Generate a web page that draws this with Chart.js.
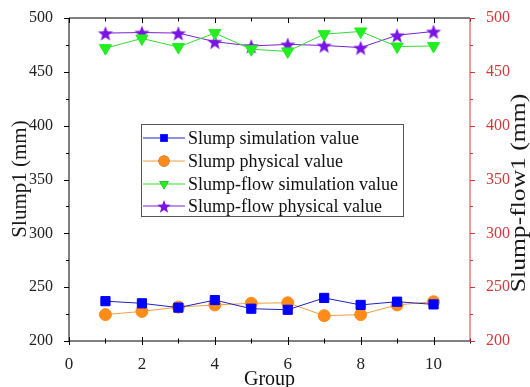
<!DOCTYPE html>
<html>
<head>
<meta charset="utf-8">
<script src="https://cdn.jsdelivr.net/npm/chart.js@4"></script>
<style>
  html, body { margin: 0; padding: 0; background: #fff; }
  #wrap { width: 530px; height: 387px; }
</style>
</head>
<body>
<div id="wrap"><canvas id="c" width="530" height="387"></canvas></div>
<script>
// data
const groups = [1, 2, 3, 4, 5, 6, 7, 8, 9, 10];
const slumpSim = [237, 235, 231, 238, 230, 229, 240, 233.5, 236.5, 234];
const slumpPhys = [224.5, 227.5, 231.5, 233.5, 235, 235.5, 223.5, 224.5, 233.5, 236.5];
const flowSim = [472, 481, 473, 486, 471, 469, 485, 487.5, 473.5, 474];
const flowPhys = [486, 486.5, 486, 478, 474, 475.5, 474.5, 472.5, 484, 487.5];
const xTicks = [0, 2, 4, 6, 8, 10];
const yTicks = [200, 250, 300, 350, 400, 450, 500];

const FONT = "'Liberation Serif', 'Times New Roman', serif";
const RED = '#d23a3a';

// filled 5 point star for the purple series
function makeStar(r, color) {
    const c = document.createElement('canvas');
    c.width = c.height = r * 2 + 2;
    const g = c.getContext('2d');
    g.beginPath();
    for (let i = 0; i < 10; i++) {
        const rad = i % 2 === 0 ? r : r * 0.42;
        const a = -Math.PI / 2 + i * Math.PI / 5;
        const px = r + 1 + rad * Math.cos(a), py = r + 1 + rad * Math.sin(a) + 1;
        if (i === 0) g.moveTo(px, py); else g.lineTo(px, py);
    }
    g.closePath();
    g.fillStyle = color;
    g.fill();
    return c;
}
const starImg = makeStar(8, '#7a14e6');
const starSmall = makeStar(7, '#7a14e6');

const toPts = arr => arr.map((v, i) => ({ x: groups[i], y: v }));

// vertical title (reads bottom to top)
function vText(ctx, text, x, y, size, stretch) {
    ctx.save();
    ctx.translate(x, y);
    ctx.rotate(-Math.PI / 2);
    ctx.scale(stretch, 1);
    ctx.font = size + 'px ' + FONT;
    ctx.fillStyle = '#1a1a1a';
    ctx.textAlign = 'center';
    ctx.textBaseline = 'middle';
    ctx.fillText(text, 0, 0);
    ctx.restore();
}

// frame, ticks, titles and legend drawn by hand
const framePlugin = {
    id: 'frame',
    afterDraw(chart) {
        const ctx = chart.ctx;
        const a = chart.chartArea;
        const xs = chart.scales.x, yl = chart.scales.y, yr = chart.scales.y1;
        ctx.save();
        ctx.lineWidth = 1;
        ctx.strokeStyle = '#000';
        ctx.beginPath();
        ctx.moveTo(a.left, a.top); ctx.lineTo(a.right, a.top);
        ctx.moveTo(a.left, a.top); ctx.lineTo(a.left, a.bottom);
        ctx.moveTo(a.left, a.bottom); ctx.lineTo(a.right, a.bottom);
        for (let v = 0; v <= 11; v++) {
            const px = Math.round(xs.getPixelForValue(v)) + 0.5;
            const len = v % 2 === 0 ? 4 : 2.5;
            ctx.moveTo(px, a.bottom - len); ctx.lineTo(px, a.bottom + len);
            ctx.moveTo(px, a.top); ctx.lineTo(px, a.top + len + 1);
        }
        for (let v = 200; v <= 500; v += 25) {
            const py = Math.round(yl.getPixelForValue(v)) + 0.5;
            const len = v % 50 === 0 ? 5 : 3;
            ctx.moveTo(a.left, py); ctx.lineTo(a.left - len, py);
        }
        ctx.stroke();
        ctx.strokeStyle = RED;
        ctx.beginPath();
        ctx.moveTo(a.right, a.top); ctx.lineTo(a.right, a.bottom);
        for (let v = 200; v <= 500; v += 25) {
            const py = Math.round(yr.getPixelForValue(v)) + 0.5;
            const len = v % 50 === 0 ? 5 : 3;
            ctx.moveTo(a.right, py); ctx.lineTo(a.right + len, py);
        }
        ctx.stroke();

        vText(ctx, 'Slump1 (mm)', 20, 179, 21, 1);
        vText(ctx, 'Slump-flow1 (mm)', 520, 193, 20, 1.28);

        // legend box
        const bx = 141, by = 124, bw = 262, bh = 92;
        ctx.strokeStyle = '#555';
        ctx.fillStyle = '#fff';
        ctx.fillRect(bx, by, bw, bh);
        ctx.strokeRect(bx + 0.5, by + 0.5, bw, bh);
        const rows = [138, 161, 184, 206];
        ctx.font = '18px ' + FONT;
        ctx.textBaseline = 'middle';
        chart.data.datasets.forEach((ds, i) => {
            const y = rows[i];
            ctx.strokeStyle = ds.borderColor;
            ctx.lineWidth = 1;
            ctx.beginPath();
            ctx.moveTo(bx + 2, y); ctx.lineTo(bx + 44, y);
            ctx.stroke();
            const style = i === 3 ? starSmall : ds.pointStyle;
            Chart.helpers.drawPoint(ctx, {
                pointStyle: style, radius: 5.5, rotation: ds.pointRotation || 0,
                borderWidth: 0
            }, bx + 23, y);
            ctx.fillStyle = ds.pointBackgroundColor;
            ctx.fill();
            ctx.fillStyle = '#111';
            ctx.fillText(ds.label, bx + 47, y + 1);
        });
        ctx.restore();
    }
};

new Chart(document.getElementById('c'), {
    type: 'line',
    data: {
        datasets: [
            {
                label: 'Slump simulation value', data: toPts(slumpSim), yAxisID: 'y',
                borderColor: '#2020c0', backgroundColor: '#0000ff',
                pointBackgroundColor: '#0000ff', pointBorderColor: '#0000ff',
                pointStyle: 'rect', pointRadius: 6.5, borderWidth: 1
            },
            {
                label: 'Slump physical value', data: toPts(slumpPhys), yAxisID: 'y',
                borderColor: '#f0a040', backgroundColor: '#ff8c1a',
                pointBackgroundColor: '#ff8c1a', pointBorderColor: '#ff8c1a',
                pointStyle: 'circle', pointRadius: 6, borderWidth: 1
            },
            {
                label: 'Slump-flow simulation value', data: toPts(flowSim), yAxisID: 'y1',
                borderColor: '#33dd33', backgroundColor: '#22ee22',
                pointBackgroundColor: '#22ee22', pointBorderColor: '#22ee22',
                pointStyle: 'triangle', pointRotation: 180, pointRadius: 7, borderWidth: 1
            },
            {
                label: 'Slump-flow physical value', data: toPts(flowPhys), yAxisID: 'y1',
                borderColor: '#7a20d0', backgroundColor: '#7a14e6',
                pointBackgroundColor: '#7a14e6', pointBorderColor: '#7a14e6',
                pointStyle: starImg, pointRadius: 8, borderWidth: 1
            }
        ]
    },
    options: {
        responsive: false,
        animation: false,
        events: [],
        layout: { padding: { top: 18, bottom: 0 } },
        plugins: { legend: { display: false }, tooltip: { enabled: false } },
        scales: {
            x: {
                type: 'linear', min: 0, max: 11,
                afterBuildTicks: s => { s.ticks = xTicks.map(v => ({ value: v })); },
                afterFit: s => { s.height = 46; },
                grid: { display: false }, border: { display: false },
                ticks: { color: '#222', padding: 5, font: { family: FONT, size: 17 } },
                title: { display: true, text: 'Group', color: '#111', padding: { top: 0, bottom: -5 },
                         font: { family: FONT, size: 20 } }
            },
            y: {
                position: 'left', min: 200, max: 500,
                afterBuildTicks: s => { s.ticks = yTicks.map(v => ({ value: v })); },
                afterFit: s => { s.width = 69; },
                grid: { display: false }, border: { display: false },
                ticks: { color: '#222', padding: 8, font: { family: FONT, size: 16 } }
            },
            y1: {
                position: 'right', min: 200, max: 500,
                afterBuildTicks: s => { s.ticks = yTicks.map(v => ({ value: v })); },
                afterFit: s => { s.width = 60; },
                grid: { display: false }, border: { display: false },
                ticks: { color: RED, padding: 8, font: { family: FONT, size: 16 } }
            }
        }
    },
    plugins: [framePlugin]
});
</script>
</body>
</html>
